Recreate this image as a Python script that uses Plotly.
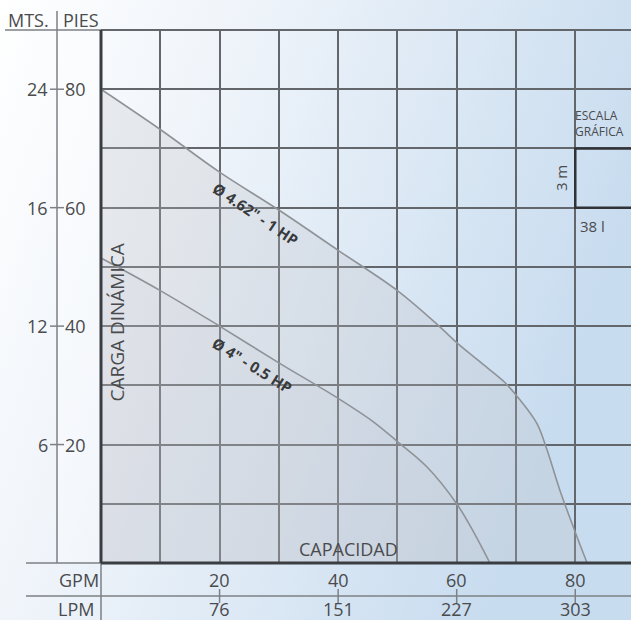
import base64
import plotly.graph_objects as go

# curve data (GPM vs feet of head)
hp1_gpm = [0, 10, 20, 30, 40, 50, 56.7, 60, 64, 68, 70.3, 73.5, 75.2, 77.4, 80, 82]
hp1_ft = [80, 73.2, 66, 59.6, 52.8, 46, 40.3, 37.2, 33.9, 30.6, 28, 23.6, 19.2, 12.3, 5.2, 0]

hp05_gpm = [0, 10, 20, 30, 40, 46, 50, 55, 60, 62.7, 65.6]
hp05_ft = [51.5, 46, 40, 33.8, 27.8, 23.8, 20.5, 16.2, 10, 5.5, 0]

# axis labels
gpm_ticks = [20, 40, 60, 80]
lpm_labels = ["76", "151", "227", "303"]
pies_ticks = [20, 40, 60, 80]
mts_labels = ["6", "12", "16", "24"]

W, H = 631, 620
L, T, B = 101, 30, 57
PW, PH = W - L, H - T - B
XMAX, YMAX = 89.4, 90

def px(p):  # pixel x -> paper x
    return (p - L) / PW

def py(p):  # pixel y -> paper y
    return (H - B - p) / PH

TXT = "#4a4b4d"
FONT = "Open Sans"

fig = go.Figure()

fig.add_trace(go.Scatter(
    x=hp1_gpm, y=hp1_ft, mode="lines", fill="tozeroy",
    line=dict(color="#8f9398", width=1.6, shape="spline", smoothing=1.0),
    fillcolor="rgba(190,190,194,0.26)", hoverinfo="skip", showlegend=False))
fig.add_trace(go.Scatter(
    x=hp05_gpm, y=hp05_ft, mode="lines", fill="tozeroy",
    line=dict(color="#8f9398", width=1.6, shape="spline", smoothing=1.0),
    fillcolor="rgba(190,190,194,0.10)", hoverinfo="skip", showlegend=False))

# background gradient
svg = ('<svg xmlns="http://www.w3.org/2000/svg" width="631" height="620">'
       '<defs><linearGradient id="g" x1="0" y1="0" x2="1" y2="0.35">'
       '<stop offset="0" stop-color="#ffffff"/>'
       '<stop offset="0.35" stop-color="#eff4fa"/>'
       '<stop offset="1" stop-color="#c8dcef"/>'
       '</linearGradient></defs>'
       '<rect width="631" height="620" fill="url(#g)"/>'
       '<rect x="58" y="30" width="43" height="533" fill="#ffffff" fill-opacity="0.35"/></svg>')
src = "data:image/svg+xml;base64," + base64.b64encode(svg.encode()).decode()

shapes = []
thin = dict(color="#7d8185", width=1.5)
# left header and column divider
shapes.append(dict(type="line", xref="paper", yref="paper", x0=px(5), x1=px(101), y0=py(30), y1=py(30), line=thin))
shapes.append(dict(type="line", xref="paper", yref="paper", x0=px(57), x1=px(57), y0=py(11), y1=py(563), line=thin))
# bottom rows
shapes.append(dict(type="line", xref="paper", yref="paper", x0=px(26), x1=px(101), y0=py(563), y1=py(563), line=thin))
shapes.append(dict(type="line", xref="paper", yref="paper", x0=px(26), x1=px(W), y0=py(596), y1=py(596), line=thin))
shapes.append(dict(type="line", xref="paper", yref="paper", x0=0, x1=0, y0=py(563), y1=py(H), line=thin))
for v in gpm_ticks:
    shapes.append(dict(type="line", xref="x", yref="paper", x0=v, x1=v, y0=py(589), y1=py(603), line=thin))
# dashes between MTS and PIES
for v in pies_ticks:
    shapes.append(dict(type="line", xref="paper", yref="y", x0=px(50), x1=px(64), y0=v, y1=v, line=thin))
# top grid line and plot frame
shapes.append(dict(type="line", xref="paper", yref="paper", x0=0, x1=1, y0=1, y1=1, line=dict(color="#63676b", width=2)))
shapes.append(dict(type="line", xref="paper", yref="paper", x0=0, x1=0, y0=0, y1=1, line=dict(color="#3a3d41", width=3)))
shapes.append(dict(type="line", xref="paper", yref="paper", x0=0, x1=1, y0=0, y1=0, line=dict(color="#3a3d41", width=3)))
# escala grafica box
shapes.append(dict(type="rect", xref="x", yref="y", x0=80, x1=92, y0=60, y1=70, line=dict(color="#2f3236", width=2.5)))

ann = []
def add(text, x, y, xref="paper", yref="paper", size=18, color=TXT, **kw):
    d = dict(text=text, x=x, y=y, xref=xref, yref=yref, showarrow=False,
             font=dict(family=FONT, size=size, color=color))
    d.update(kw)
    ann.append(d)

add("MTS.", px(51), py(20), xanchor="right", yanchor="middle")
add("PIES", px(61), py(20), xanchor="left", yanchor="middle")
for m, v in zip(mts_labels, pies_ticks):
    add(m, px(50), v, yref="y", xanchor="right", yanchor="middle")
    add(str(v), px(63), v, yref="y", xanchor="left", yanchor="middle")
add("GPM", px(57), py(580), yanchor="middle")
add("LPM", px(56), py(609), yanchor="middle")
for g, l in zip(gpm_ticks, lpm_labels):
    add(str(g), g, py(580), xref="x", yanchor="middle")
    add(l, g, py(609), xref="x", yanchor="middle")
add("CAPACIDAD", 41.8, 2.4, xref="x", yref="y", size=18, yanchor="middle")
add("CARGA DINÁMICA", 2.7, 40.6, xref="x", yref="y", size=19, textangle=-90)
add("<b>Ø 4.62\" - 1 HP</b>", 26.1, 58.9, xref="x", yref="y", size=15, color="#38393b", textangle=34)
add("<b>Ø 4\" - 0.5 HP</b>", 25.5, 33.4, xref="x", yref="y", size=15, color="#38393b", textangle=32)
add("ESCALA<br>GRÁFICA", 80, 74.2, xref="x", yref="y", size=12, xanchor="left", yanchor="middle",
    align="left", xshift=-2)
add("3 m", 77.6, 65, xref="x", yref="y", size=15, textangle=-90)
add("38 l", 80, 56.9, xref="x", yref="y", size=15, xanchor="left", xshift=3)

fig.update_layout(
    width=W, height=H,
    margin=dict(l=L, r=0, t=T, b=B),
    paper_bgcolor="#eef3f9",
    plot_bgcolor="rgba(0,0,0,0)",
    images=[dict(source=src, xref="paper", yref="paper", x=px(0), y=py(0),
                 sizex=W / PW, sizey=H / PH, xanchor="left", yanchor="top",
                 sizing="stretch", layer="below")],
    shapes=shapes,
    annotations=ann,
    showlegend=False,
    xaxis=dict(range=[0, XMAX], dtick=10, tick0=0, showgrid=True, gridcolor="#63676b",
               gridwidth=2, zeroline=False, showticklabels=False, ticks="", showline=False,
               fixedrange=True),
    yaxis=dict(range=[0, YMAX], dtick=10, tick0=0, showgrid=True, gridcolor="#63676b",
               gridwidth=2, zeroline=False, showticklabels=False, ticks="", showline=False,
               fixedrange=True),
)

fig.write_html("out.html", config={"displayModeBar": False},
               post_script="document.body.style.margin='0';document.body.style.overflow='hidden';")
